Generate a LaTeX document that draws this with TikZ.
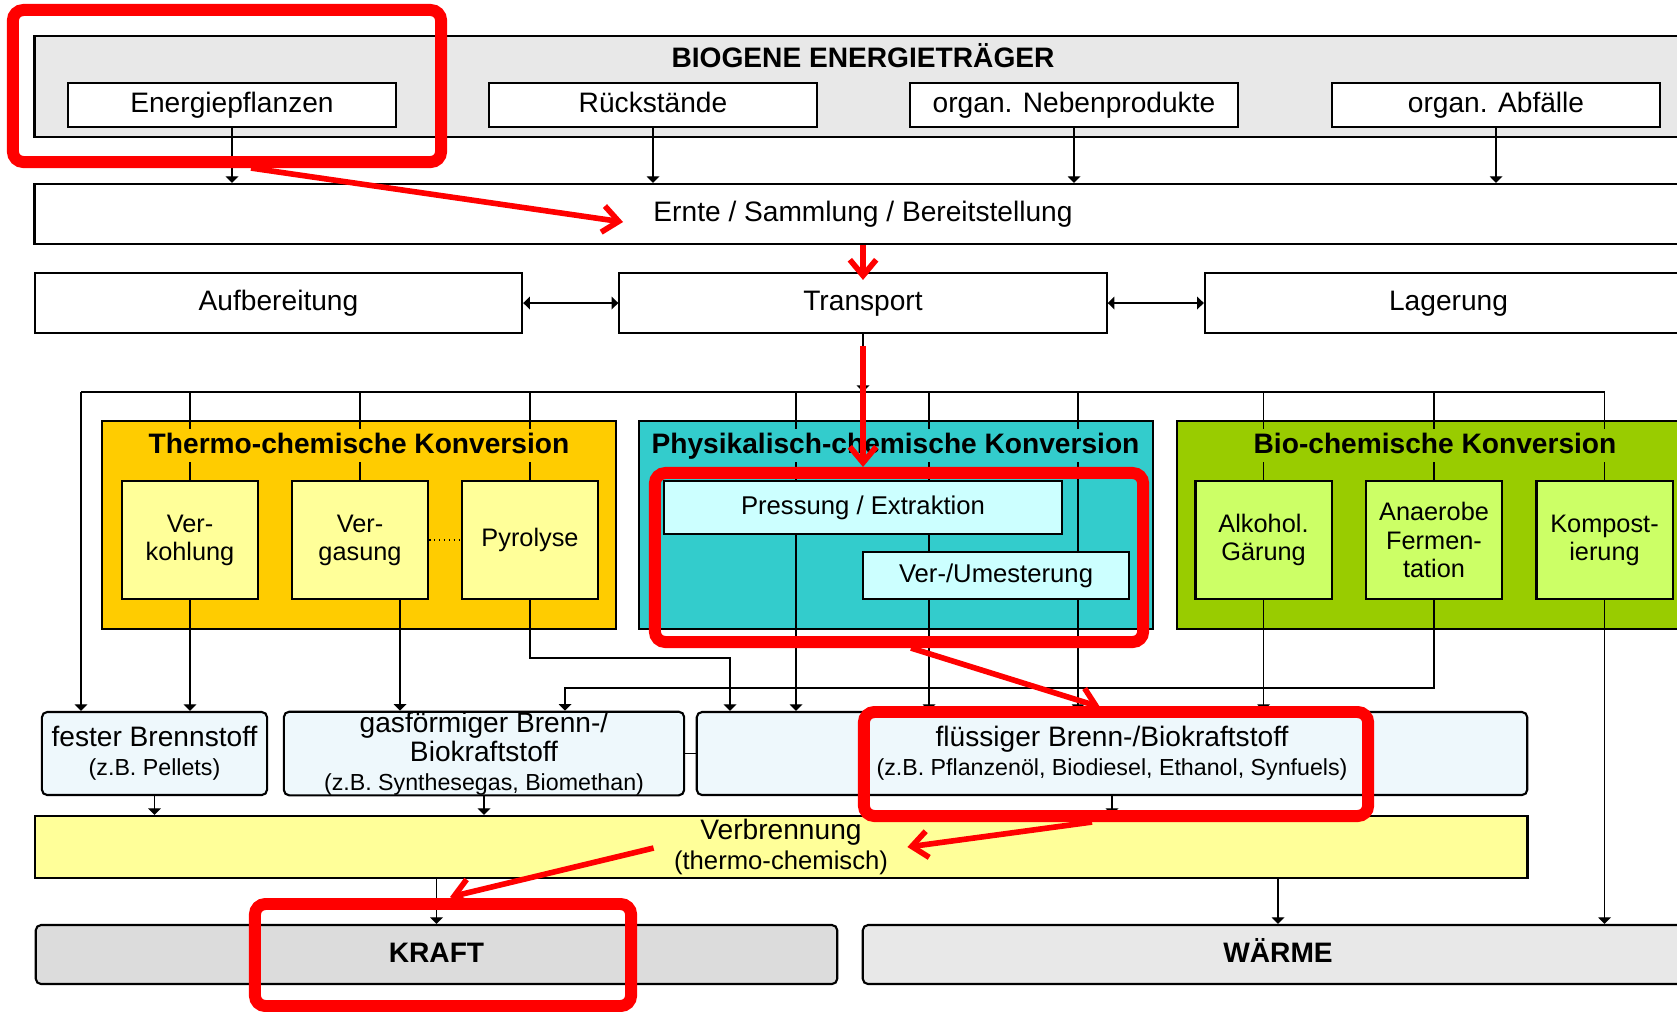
\documentclass[tikz,border=0pt]{standalone}
\usepackage{fontspec}
\setmainfont{Liberation Sans}
\definecolor{biogray}{HTML}{E8E8E8}
\definecolor{kraftgray}{HTML}{DCDCDC}
\definecolor{thermoorange}{HTML}{FFCC00}
\definecolor{thermolight}{HTML}{FFFF99}
\definecolor{physteal}{HTML}{33CCCC}
\definecolor{physlight}{HTML}{CCFFFF}
\definecolor{biogreen}{HTML}{99CC00}
\definecolor{biolight}{HTML}{CCFF66}
\definecolor{fuelblue}{HTML}{EEF8FC}
\definecolor{hlred}{HTML}{FF0000}
\usetikzlibrary{arrows.meta,calc}

\begin{document}
\begin{tikzpicture}[x=0.01cm, y=-0.01cm,
    >={Triangle[length=1.9pt,width=3.6pt]},
    every node/.style={font=\fontsize{8}{8.3}\selectfont, align=center},
    oneline/.style={text height=5.8pt, text depth=1.4pt},
    box/.style={draw, line width=0.6pt, inner sep=0pt},
    srcbox/.style={box, oneline, fill=white, minimum width=3.28cm, minimum height=0.44cm},
    stagebox/.style={box, oneline, fill=white, minimum width=4.87cm, minimum height=0.6cm},
    groupbox/.style={draw, line width=0.5pt, minimum width=5.14cm, minimum height=2.08cm},
    subbox/.style={box, minimum width=1.36cm, minimum height=1.18cm, font=\fontsize{7.2}{8}\selectfont},
    physbox/.style={box, fill=physlight, text height=5.3pt, text depth=1.3pt, font=\fontsize{7.3}{8}\selectfont},
    fuelbox/.style={box, fill=fuelblue, rounded corners=1.5pt, minimum height=0.83cm},
    endbox/.style={box, oneline, rounded corners=1.5pt, minimum height=0.59cm, font=\bfseries\fontsize{8}{9}\selectfont},
    grouptitle/.style={oneline, font=\bfseries\fontsize{8}{9}\selectfont, inner sep=1pt},
    redframe/.style={draw=hlred, line width=3.4pt, rounded corners=3pt, inner sep=0pt},
    redarrow/.style={draw=hlred, line width=1.6pt, -{Straight Barb[length=4.5pt,width=7.5pt]}}
]
    \fill[white] (0,0) rectangle (1677,1011);
    \useasboundingbox (0,0) rectangle (1677,1011);

    % Biogene Energietraeger
    \node[box, fill=biogray, minimum width=16.56cm, minimum height=1.01cm] (bio) at (863,86.5) {};
    \node[oneline, font=\bfseries\fontsize{8}{9}\selectfont] (biotitle) at (863,60) {BIOGENE ENERGIETRÄGER};
    \node[srcbox] (energie) at (232,105) {Energiepflanzen};
    \node[srcbox] (rueck) at (653,105) {Rückstände};
    \node[srcbox] (neben) at (1074,105) {organ. Nebenprodukte};
    \node[srcbox] (abfall) at (1496,105) {organ. Abfälle};

    % Ernte / Transport
    \node[box, fill=white, minimum width=16.56cm, minimum height=0.6cm] (ernte) at (863,214) {};
    \node[oneline] (erntetxt) at (863,214) {Ernte / Sammlung / Bereitstellung};
    \node[stagebox] (aufb) at (278.5,303) {Aufbereitung};
    \node[stagebox] (transport) at (863,303) {Transport};
    \node[stagebox] (lager) at (1448.5,303) {Lagerung};

    % Konversion
    \node[groupbox, fill=thermoorange] (thermo) at (359,525) {};
    \node[groupbox, fill=physteal] (phys) at (896,525) {};
    \node[groupbox, fill=biogreen, minimum width=5.23cm] (biochem) at (1438.5,525) {};

    \node[subbox, fill=thermolight] (verkohlung) at (190,540) {Ver-\\kohlung};
    \node[subbox, fill=thermolight] (vergasung) at (360,540) {Ver-\\gasung};
    \node[subbox, fill=thermolight] (pyrolyse) at (530,540) {Pyrolyse};
    \node[physbox, minimum width=3.98cm, minimum height=0.53cm] (pressung) at (863,507.5) {Pressung / Extraktion};
    \node[physbox, minimum width=2.66cm, minimum height=0.47cm] (umester) at (996,575.5) {Ver-/Umesterung};
    \node[subbox, fill=biolight] (alkohol) at (1263.5,540) {Alkohol.\\Gärung};
    \node[subbox, fill=biolight] (anaerob) at (1434,540) {Anaerobe\\Fermen-\\tation};
    \node[subbox, fill=biolight] (kompost) at (1604.5,540) {Kompost-\\ierung};

    % Brennstoffe
    \node[fuelbox, minimum width=2.25cm] (fester) at (154.5,753.5) {fester Brennstoff\\\fontsize{6.6}{8.3}\selectfont(z.B. Pellets)};
    \node[fuelbox, minimum width=4.0cm] (gas) at (484,753.5) {gasförmiger Brenn-/\\Biokraftstoff\\\fontsize{6.6}{8.3}\selectfont(z.B. Synthesegas, Biomethan)};
    \node[fuelbox, minimum width=8.3cm] (fluessig) at (1112,753.5) {flüssiger Brenn-/Biokraftstoff\\\fontsize{6.6}{8.3}\selectfont(z.B. Pflanzenöl, Biodiesel, Ethanol, Synfuels)};
    \node[box, fill=thermolight, minimum width=14.92cm, minimum height=0.62cm] (verbr) at (781,847) {};
    \node (verbtxt) at (781,847) {Verbrennung\\\fontsize{7.3}{8.3}\selectfont(thermo-chemisch)};
    \node[endbox, fill=kraftgray, minimum width=8.01cm] (kraft) at (436.5,954.5) {KRAFT};
    \node[endbox, fill=biogray, minimum width=8.3cm] (waerme) at (1278,954.5) {WÄRME};

    % Verbindungen
    \coordinate (busL) at (81,392);
    \coordinate (xa) at (796,0);
    \coordinate (xb) at (929,0);
    \coordinate (xc) at (1078,0);
    \coordinate (xv) at (400,0);
    \coordinate (pyturn) at (730,658);
    \coordinate (anturn) at (565,688);

    \foreach \s in {energie,rueck,neben,abfall}
        \draw[->] (\s) -- (\s |- ernte.north);
    \draw[<->] (aufb) -- (transport);
    \draw[<->] (transport) -- (lager);
    \draw[->] (transport) -- (transport |- busL);
    \draw (busL) -- (busL -| kompost);
    \draw[->] (busL) -- (busL |- fester.north);
    \foreach \n in {verkohlung,vergasung,pyrolyse,alkohol,anaerob,kompost}
        \draw (\n |- busL) -- (\n);
    \draw (xa |- busL) -- (xa |- pressung.north);
    \draw (xb |- busL) -- (xb |- pressung.north);
    \draw (xc |- busL) -- (xc |- umester.north);
    \draw (xb |- pressung.south) -- (xb |- umester.north);
    \draw[->] (xa |- pressung.south) -- (xa |- fluessig.north);
    \draw[->] (xb |- umester.south) -- (xb |- fluessig.north);
    \draw[->] (xc |- umester.south) -- (xc |- fluessig.north);
    \draw[densely dotted] (vergasung) -- (pyrolyse);
    \draw[->] (verkohlung) -- (verkohlung |- fester.north);
    \draw[->] (vergasung.south -| xv) -- (gas.north -| xv);
    \draw[->] (pyrolyse.south) |- (pyturn) -- (pyturn |- fluessig.north);
    \draw[->] (anaerob.south) |- (anturn) -- (anturn |- gas.north);
    \draw[->] (alkohol) -- (alkohol |- fluessig.north);
    \draw[->] (kompost) -- (kompost |- waerme.north);
    \draw (gas) -- (fluessig);
    \foreach \f in {fester,gas,fluessig}
        \draw[->] (\f) -- (\f |- verbr.north);
    \draw[->] (kraft |- verbr.south) -- (kraft);
    \draw[->] (waerme |- verbr.south) -- (waerme);

    % Titel der Konversionsgruppen
    \node[grouptitle, fill=thermoorange] (thermotitle) at (359,445.5) {Thermo-chemische Konversion};
    \node[grouptitle, fill=physteal] (phystitle) at (895.5,445.5) {Physikalisch-chemische Konversion};
    \node[grouptitle, fill=biogreen] (biotitle2) at (1435,445.5) {Bio-chemische Konversion};

    % Markierungen
    \node[redframe, minimum width=4.28cm, minimum height=1.52cm] (hl1) at (227,86) {};
    \node[redframe, minimum width=4.88cm, minimum height=1.69cm] (hl2) at (899,557.5) {};
    \node[redframe, minimum width=5.04cm, minimum height=1.04cm] (hl3) at (1116,764) {};
    \node[redframe, minimum width=3.76cm, minimum height=1.02cm] (hl4) at (443,955) {};
    \draw[redarrow] ($(hl1.south)+(24,0)$) -- ($(erntetxt.west)+(-18,8)$);
    \draw[redarrow] (ernte.south) -- ($(transport.north)+(0,8)$);
    \draw[redarrow] ($(transport.south)+(0,12)$) -- (hl2.north -| transport.south);
    \draw[redarrow] ($(hl2.south)+(12,0)$) -- ($(hl3.north)+(-16,1)$);
    \draw[redarrow] ($(hl3.south)+(-24,0)$) -- ($(verbtxt.east)+(7,0)$);
    \draw[redarrow] ($(verbtxt.west)+(-8,1)$) -- ($(hl4.north)+(7,-1)$);
\end{tikzpicture}
\end{document}
